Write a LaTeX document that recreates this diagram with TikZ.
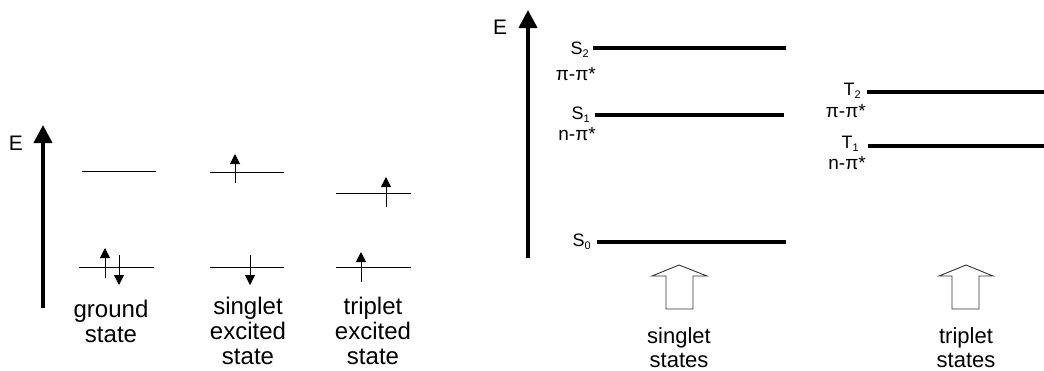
\documentclass[tikz,border=0pt]{standalone}
\usepackage{fontspec}
\setmainfont{Liberation Sans}
\usetikzlibrary{arrows.meta}
\newcommand{\mysub}[1]{\raisebox{-0.35ex}{\fontsize{11}{12}\selectfont #1}}
\begin{document}
\begin{tikzpicture}[x=1pt,y=-1pt,
  thinlevel/.style={line width=0.9pt},
  thicklevel/.style={line width=3.6pt},
  axis/.style={line width=4pt,-{Triangle[width=18pt,length=18pt]}},
  spin/.style={line width=1pt,-{Triangle[width=10pt,length=10pt]}},
  hollow/.style={line width=0.9pt,draw=black!80,line join=miter},
  lbl/.style={inner sep=0pt,font=\fontsize{24}{25}\selectfont,align=center,anchor=north},
  rlbl/.style={inner sep=0pt,font=\fontsize{22}{24}\selectfont,align=center,anchor=north},
  elbl/.style={inner sep=0pt,font=\fontsize{21}{22}\selectfont},
  slbl/.style={inner sep=0pt,font=\fontsize{18}{20}\selectfont,anchor=east},
  olbl/.style={inner sep=0pt,font=\fontsize{19}{20}\selectfont,anchor=east}]
\useasboundingbox (0,0) rectangle (1044,370);
% ---------------- left panel ----------------
\coordinate (eb) at (43,308);
\coordinate (et) at (43,125);
\draw[axis] (eb) -- (et);
\node[elbl] (E1) at (16,143) {E};
% ground state
\coordinate (g1a) at (82,171); \coordinate (g1b) at (156,171);
\coordinate (g0a) at (79,267); \coordinate (g0b) at (154,267);
\draw[thinlevel] (g1a) -- (g1b);
\draw[thinlevel] (g0a) -- (g0b);
\coordinate (ga1) at (105,278); \coordinate (ga2) at (105,248);
\coordinate (gb1) at (119,255); \coordinate (gb2) at (119,285);
\draw[spin] (ga1) -- (ga2);
\draw[spin] (gb1) -- (gb2);
% singlet excited
\coordinate (s1a) at (210,172); \coordinate (s1b) at (284,172);
\coordinate (s0a) at (210,267); \coordinate (s0b) at (284,267);
\draw[thinlevel] (s1a) -- (s1b);
\draw[thinlevel] (s0a) -- (s0b);
\coordinate (sa1) at (235,183); \coordinate (sa2) at (235,154);
\coordinate (sb1) at (250,255); \coordinate (sb2) at (250,285);
\draw[spin] (sa1) -- (sa2);
\draw[spin] (sb1) -- (sb2);
% triplet excited
\coordinate (t1a) at (336,193); \coordinate (t1b) at (411,193);
\coordinate (t0a) at (336,267); \coordinate (t0b) at (411,267);
\draw[thinlevel] (t1a) -- (t1b);
\draw[thinlevel] (t0a) -- (t0b);
\coordinate (ta1) at (386,207); \coordinate (ta2) at (386,177);
\coordinate (tb1) at (361,282); \coordinate (tb2) at (361,252);
\draw[spin] (ta1) -- (ta2);
\draw[spin] (tb1) -- (tb2);
% labels
\node[lbl] (Lg) at (111,300) {ground\\state};
\node[lbl] (Ls) at (248,297) {singlet\\excited\\state};
\node[lbl] (Lt) at (373,297) {triplet\\excited\\state};
% ---------------- right panel ----------------
\coordinate (Eb) at (528,258);
\coordinate (Et) at (528,10);
\draw[axis] (Eb) -- (Et);
\node[elbl] (E2) at (500,27) {E};
% singlet levels
\coordinate (S2a) at (593,48); \coordinate (S2b) at (786,48);
\coordinate (S1a) at (595,115); \coordinate (S1b) at (784,115);
\coordinate (S0a) at (597,242); \coordinate (S0b) at (786,242);
\draw[thicklevel] (S2a) -- (S2b);
\draw[thicklevel] (S1a) -- (S1b);
\draw[thicklevel] (S0a) -- (S0b);
\node[slbl] (S2l) at (589,50) {S\mysub{2}};
\node[olbl] (S2o) at (596,74) {π-π*};
\node[slbl] (S1l) at (590,115) {S\mysub{1}};
\node[olbl] (S1o) at (596,134) {n-π*};
\node[slbl] (S0l) at (591,242) {S\mysub{0}};
% triplet levels
\coordinate (T2a) at (867,92); \coordinate (T2b) at (1044,92);
\coordinate (T1a) at (868,146); \coordinate (T1b) at (1044,146);
\draw[thicklevel] (T2a) -- (T2b);
\draw[thicklevel] (T1a) -- (T1b);
\node[slbl] (T2l) at (861,91) {T\mysub{2}};
\node[olbl] (T2o) at (866,111) {π-π*};
\node[slbl] (T1l) at (859,144) {T\mysub{1}};
\node[olbl] (T1o) at (866,163) {n-π*};
% hollow arrows
\draw[hollow] (666,309) -- (666,276) -- (652,276) -- (679,265) -- (707,276) -- (693,276) -- (693,309) -- cycle;
\draw[hollow] (952,309) -- (952,276) -- (939,276) -- (966,265) -- (993,276) -- (979,276) -- (979,309) -- cycle;
\node[rlbl] (Rs) at (679,327) {singlet\\states};
\node[rlbl] (Rt) at (966,327) {triplet\\states};
\end{tikzpicture}
\end{document}
